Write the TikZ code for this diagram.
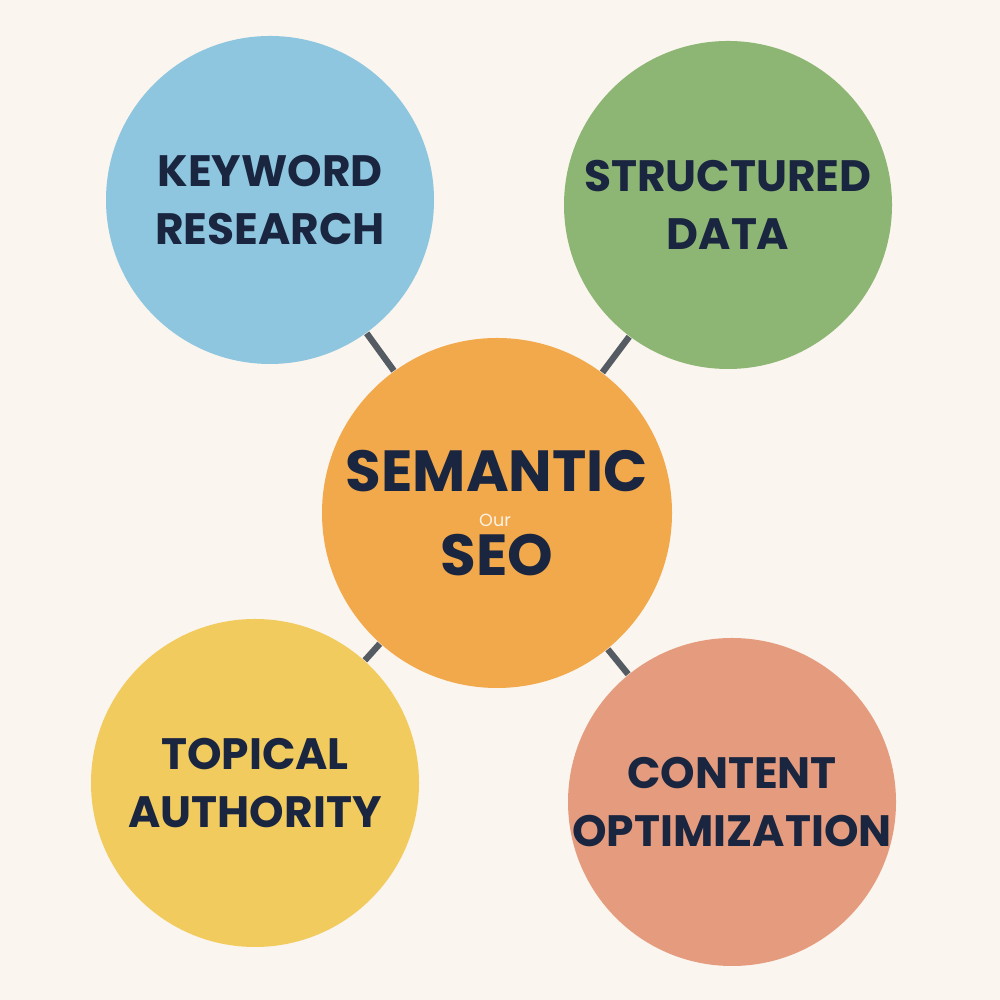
\documentclass[tikz,border=0pt]{standalone}
\usepackage{fontspec}
\setmainfont{Poppins}
\usetikzlibrary{positioning}
\definecolor{bgcol}{HTML}{FAF5EE}
\definecolor{blueC}{HTML}{8EC6DF}
\definecolor{greenC}{HTML}{8DB573}
\definecolor{orangeC}{HTML}{F2A94B}
\definecolor{yellowC}{HTML}{F2CB5E}
\definecolor{salmonC}{HTML}{E59C7E}
\definecolor{inkC}{HTML}{1A2540}
\definecolor{linkC}{HTML}{555B62}

\begin{document}
\begin{tikzpicture}
  \tikzstyle{topic}=[circle, draw=none, minimum size=3.28cm, inner sep=0pt]
  \tikzstyle{label}=[align=center, text=inkC, font=\fontsize{12.5}{16.5}\selectfont\bfseries]
  \tikzstyle{link}=[draw=linkC, line width=1.8pt]

  \fill [bgcol] (0,0) rectangle (10,10);
  \useasboundingbox (0,0) rectangle (10,10);

  \node (semantic) [topic, fill=orangeC, minimum size=3.5cm] at (4.97,4.87) {};
  \node (keyword) [topic, fill=blueC] at (2.70,8.00) {};
  \node (structured) [topic, fill=greenC] at (7.28,7.95) {};
  \node (topical) [topic, fill=yellowC] at (2.55,2.17) {};
  \node (content) [topic, fill=salmonC] at (7.32,1.98) {};

  \node (semantic_txt) [label, font=\fontsize{16.5}{24}\selectfont\bfseries] at (semantic) {SEMANTIC\\SEO};
  \node (keyword_txt) [label] at (keyword) {KEYWORD\\RESEARCH};
  \node (structured_txt) [label] at (structured) {STRUCTURED\\DATA};
  \node (topical_txt) [label] at (topical) {TOPICAL\\AUTHORITY};
  \node (content_txt) [label] at (content) {CONTENT\\OPTIMIZATION};
  \node (tiny) [text=white!85!orangeC, font=\tiny] at (4.95,4.80) {Our};

  \draw [link] (semantic) -- (keyword);
  \draw [link] (semantic) -- (structured);
  \draw [link] (semantic) -- (topical);
  \draw [link] (semantic) -- (content);
\end{tikzpicture}
\end{document}
